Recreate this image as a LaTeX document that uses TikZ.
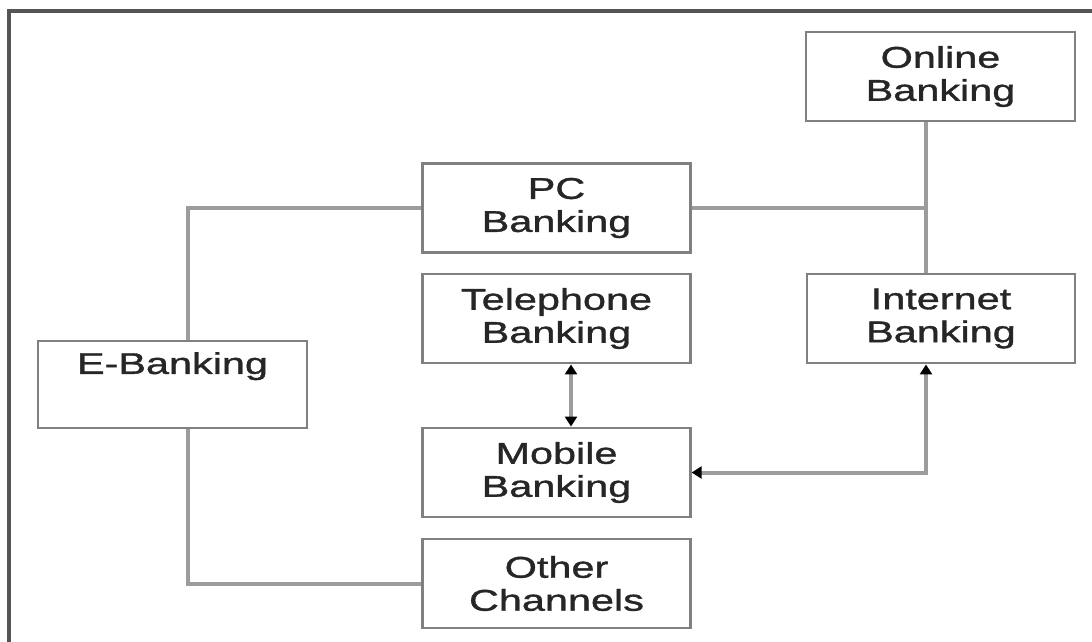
\documentclass[tikz,border=0pt]{standalone}
\usepackage{fontspec}
\setmainfont{Liberation Sans}
\newfontfamily\widefont[FakeStretch=1.38,FakeBold=1.2]{Liberation Sans}
\usetikzlibrary{arrows.meta}
\definecolor{boxgray}{HTML}{808080}
\definecolor{linegray}{HTML}{9C9C9C}
\definecolor{framegray}{HTML}{555555}
\tikzset{
  bank/.style={draw=boxgray, line width=2.2pt, rectangle, minimum width=200.5pt, minimum height=66.75pt,
    inner sep=0pt, align=center, font=\widefont\fontsize{22.5}{24.75}\selectfont, text=black!85},
  conn/.style={draw=linegray, line width=3pt},
  dtip/.style={{Triangle[length=7.5pt,width=9pt,color=black]}-{Triangle[length=7.5pt,width=9pt,color=black]}},
  frame/.style={draw=framegray, line width=3pt}
}
\begin{document}
\begin{tikzpicture}[x=0.75pt,y=-0.75pt]
\useasboundingbox (0,0) rectangle (1092,642);
\fill[white] (0,0) rectangle (1092,642);
% outer frame (only top and left edges visible)
\coordinate (ftl) at (9,11);
\coordinate (ftr) at (1092,11);
\coordinate (fbl) at (9,642);
\draw[frame] (fbl) -- (ftl) -- (ftr);
% guide coordinates
\coordinate (ebx) at (188,0);
\coordinate (vx) at (926,0);
\coordinate (tx) at (571,0);
% nodes
\node[bank, minimum width=201.75pt] (online) at (940.5,76.5) {Online\\Banking};
\node[bank] (pc) at (556.5,208) {PC\\Banking};
\node[bank] (tel) at (556.5,318.5) {Telephone\\Banking};
\node[bank] (mob) at (556.5,472.5) {Mobile\\Banking};
\node[bank] (oth) at (556.5,583.5) {Other\\Channels};
\node[bank, minimum width=201pt] (inet) at (941,318.5) {Internet\\Banking};
\node[bank, minimum width=201.75pt, minimum height=65.25pt] (eb) at (172.5,384.5) {E-Banking\\\strut};
% connectors
\draw[conn] (eb.north -| ebx) |- (pc.west);
\draw[conn] (eb.south -| ebx) |- (oth.west);
\draw[conn] (online.south -| vx) -- (inet.north -| vx);
\draw[conn] (pc.east) -- (pc.east -| vx);
\draw[conn, dtip] (tel.south -| tx) -- (mob.north -| tx);
\draw[conn, dtip] (mob.east) -- (mob.east -| vx) -- (inet.south -| vx);
\end{tikzpicture}
\end{document}
